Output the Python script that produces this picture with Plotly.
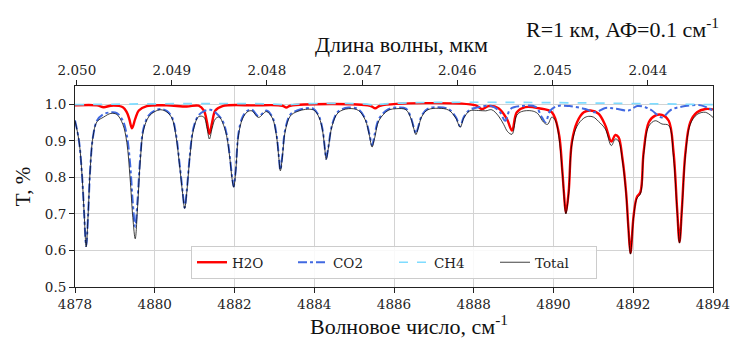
import plotly.graph_objects as go

# ---------------- data ----------------
x_h2o = [4878.00, 4878.55, 4878.72, 4878.90, 4879.20, 4879.30, 4879.36, 4879.43, 4879.51, 4879.60,
         4879.80, 4880.30, 4880.80, 4881.10, 4881.23, 4881.31, 4881.37, 4881.44, 4881.52, 4881.70,
         4882.50, 4883.20, 4883.30, 4883.40, 4885.40, 4885.53, 4885.65, 4888.05, 4888.20, 4888.37,
         4888.62, 4888.83, 4888.96, 4889.08, 4889.29, 4889.63, 4889.96, 4890.13, 4890.22, 4890.26,
         4890.31, 4890.38, 4890.46, 4890.59, 4890.76, 4890.93, 4891.13, 4891.30, 4891.45, 4891.55,
         4891.63, 4891.73, 4891.82, 4891.88, 4891.93, 4892.01, 4892.09, 4892.18, 4892.26, 4892.39,
         4892.55, 4892.72, 4892.89, 4893.01, 4893.10, 4893.16, 4893.22, 4893.31, 4893.43, 4893.60,
         4893.81, 4894.00]
t_h2o = [0.997, 0.997, 0.992, 0.996, 0.992, 0.978, 0.960, 0.934, 0.960, 0.983,
         0.995, 0.997, 0.994, 0.996, 0.983, 0.951, 0.919, 0.951, 0.983, 0.995,
         0.997, 0.996, 0.991, 0.996, 0.996, 0.989, 0.996, 0.997, 0.987, 0.995,
         0.989, 0.960, 0.928, 0.978, 0.992, 0.989, 0.978, 0.923, 0.820, 0.760,
         0.703, 0.760, 0.896, 0.951, 0.978, 0.983, 0.974, 0.942, 0.898, 0.916,
         0.910, 0.851, 0.760, 0.660, 0.593, 0.696, 0.746, 0.760, 0.869, 0.951,
         0.969, 0.971, 0.955, 0.869, 0.714, 0.623, 0.714, 0.869, 0.951, 0.978,
         0.987, 0.986]

x_co2 = [4878.00, 4878.10, 4878.18, 4878.23, 4878.28, 4878.33, 4878.38, 4878.45, 4878.55, 4878.70,
         4878.90, 4879.05, 4879.20, 4879.30, 4879.38, 4879.45, 4879.51, 4879.57, 4879.64, 4879.72,
         4879.85, 4880.00, 4880.15, 4880.30, 4880.43, 4880.53, 4880.62, 4880.70, 4880.75, 4880.80,
         4880.88, 4880.97, 4881.10, 4881.25, 4881.40, 4881.55, 4881.70, 4881.80, 4881.88, 4881.94,
         4881.98, 4882.03, 4882.10, 4882.20, 4882.32, 4882.44, 4882.60, 4882.80, 4882.95, 4883.05,
         4883.11, 4883.15, 4883.20, 4883.27, 4883.40, 4883.57, 4883.78, 4883.99, 4884.12, 4884.21,
         4884.27, 4884.30, 4884.35, 4884.45, 4884.60, 4884.86, 4885.11, 4885.28, 4885.38, 4885.45,
         4885.52, 4885.62, 4885.85, 4886.07, 4886.30, 4886.42, 4886.50, 4886.55, 4886.60, 4886.70,
         4886.85, 4887.12, 4887.37, 4887.55, 4887.66, 4887.75, 4887.90, 4888.12, 4888.45, 4888.65,
         4888.79, 4888.92, 4889.20, 4889.55, 4889.71, 4889.80, 4889.92, 4890.10, 4890.40, 4890.80,
         4891.05, 4891.30, 4891.55, 4891.88, 4892.10, 4892.30, 4892.47, 4892.72, 4892.95, 4893.30,
         4893.70, 4894.00]
t_co2 = [0.956, 0.900, 0.800, 0.700, 0.612, 0.700, 0.820, 0.910, 0.955, 0.972,
         0.978, 0.976, 0.955, 0.915, 0.840, 0.730, 0.665, 0.740, 0.860, 0.935,
         0.970, 0.983, 0.987, 0.982, 0.965, 0.920, 0.840, 0.760, 0.717, 0.760,
         0.860, 0.935, 0.970, 0.982, 0.985, 0.975, 0.955, 0.920, 0.860, 0.800,
         0.775, 0.820, 0.920, 0.965, 0.982, 0.985, 0.967, 0.983, 0.965, 0.920,
         0.860, 0.820, 0.860, 0.930, 0.972, 0.983, 0.989, 0.987, 0.967, 0.930,
         0.875, 0.851, 0.880, 0.945, 0.980, 0.991, 0.986, 0.960, 0.920, 0.888,
         0.920, 0.960, 0.986, 0.991, 0.988, 0.965, 0.935, 0.920, 0.935, 0.970,
         0.988, 0.992, 0.987, 0.965, 0.940, 0.965, 0.985, 0.992, 0.995, 0.980,
         0.955, 0.987, 0.995, 0.993, 0.964, 0.951, 0.983, 0.995, 0.995, 0.987,
         0.978, 0.990, 0.988, 0.983, 0.995, 0.992, 0.983, 0.964, 0.985, 0.995,
         0.997, 0.983]

x_ch4 = [4878.00, 4883.20, 4883.30, 4883.40, 4885.40, 4885.50, 4885.60, 4894.00]
t_ch4 = [0.999, 0.999, 0.996, 0.999, 0.999, 0.994, 0.999, 0.999]

x_total = [4878.00, 4878.10, 4878.18, 4878.23, 4878.28, 4878.33, 4878.38, 4878.45, 4878.55, 4878.72,
           4878.90, 4879.05, 4879.20, 4879.30, 4879.38, 4879.45, 4879.51, 4879.57, 4879.64, 4879.72,
           4879.85, 4880.00, 4880.15, 4880.30, 4880.43, 4880.53, 4880.62, 4880.70, 4880.75, 4880.80,
           4880.88, 4880.97, 4881.10, 4881.23, 4881.31, 4881.37, 4881.44, 4881.52, 4881.62, 4881.70,
           4881.80, 4881.88, 4881.94, 4881.98, 4882.03, 4882.10, 4882.20, 4882.32, 4882.44, 4882.60,
           4882.80, 4882.95, 4883.05, 4883.11, 4883.15, 4883.20, 4883.27, 4883.40, 4883.57, 4883.78,
           4883.99, 4884.12, 4884.21, 4884.27, 4884.30, 4884.35, 4884.45, 4884.60, 4884.86, 4885.11,
           4885.28, 4885.38, 4885.45, 4885.52, 4885.62, 4885.85, 4886.07, 4886.30, 4886.42, 4886.50,
           4886.55, 4886.60, 4886.70, 4886.85, 4887.12, 4887.37, 4887.55, 4887.66, 4887.75, 4887.90,
           4888.12, 4888.30, 4888.45, 4888.62, 4888.75, 4888.85, 4888.96, 4889.08, 4889.20, 4889.45,
           4889.60, 4889.75, 4889.85, 4889.96, 4890.05, 4890.13, 4890.22, 4890.26, 4890.31, 4890.38,
           4890.46, 4890.59, 4890.76, 4890.88, 4891.00, 4891.13, 4891.30, 4891.45, 4891.55, 4891.63,
           4891.73, 4891.82, 4891.88, 4891.93, 4892.01, 4892.09, 4892.18, 4892.26, 4892.39, 4892.55,
           4892.72, 4892.89, 4893.01, 4893.10, 4893.16, 4893.22, 4893.31, 4893.43, 4893.60, 4893.81,
           4894.00]
t_total = [0.955, 0.900, 0.800, 0.700, 0.610, 0.700, 0.820, 0.910, 0.952, 0.965,
           0.975, 0.972, 0.945, 0.895, 0.800, 0.690, 0.632, 0.720, 0.850, 0.930,
           0.966, 0.980, 0.985, 0.979, 0.962, 0.915, 0.835, 0.755, 0.715, 0.755,
           0.855, 0.930, 0.966, 0.965, 0.935, 0.905, 0.935, 0.960, 0.965, 0.950,
           0.915, 0.855, 0.795, 0.773, 0.815, 0.915, 0.960, 0.979, 0.982, 0.964,
           0.980, 0.962, 0.915, 0.855, 0.818, 0.855, 0.925, 0.968, 0.980, 0.986,
           0.984, 0.964, 0.927, 0.872, 0.849, 0.877, 0.942, 0.977, 0.988, 0.983,
           0.957, 0.916, 0.883, 0.910, 0.955, 0.983, 0.988, 0.985, 0.962, 0.932,
           0.917, 0.932, 0.967, 0.985, 0.989, 0.984, 0.962, 0.937, 0.962, 0.982,
           0.983, 0.982, 0.985, 0.968, 0.945, 0.925, 0.918, 0.970, 0.980, 0.982,
           0.975, 0.951, 0.945, 0.965, 0.955, 0.915, 0.815, 0.755, 0.700, 0.755,
           0.890, 0.940, 0.962, 0.967, 0.965, 0.953, 0.932, 0.887, 0.905, 0.900,
           0.845, 0.755, 0.655, 0.590, 0.692, 0.742, 0.755, 0.862, 0.940, 0.955,
           0.946, 0.942, 0.855, 0.708, 0.620, 0.708, 0.862, 0.945, 0.972, 0.978,
           0.964]

wavelength_ticks = [2.050, 2.049, 2.048, 2.047, 2.046, 2.045, 2.044]
wavenumber_ticks = [4878, 4880, 4882, 4884, 4886, 4888, 4890, 4892, 4894]
t_ticks = [0.5, 0.6, 0.7, 0.8, 0.9, 1.0]

# ---------------- figure ----------------
SERIF_TICK = "DejaVu Serif, Liberation Serif, serif"
SERIF_TITLE = "Liberation Serif, Times New Roman, serif"

fig = go.Figure()
fig.add_trace(go.Scatter(x=x_h2o, y=t_h2o, name="H2O", mode="lines", line_shape="spline",
                         line=dict(color="#ff0000", width=2.4)))
fig.add_trace(go.Scatter(x=x_co2, y=t_co2, name="CO2", mode="lines", line_shape="spline",
                         line=dict(color="#4169e1", width=2, dash="dashdot")))
fig.add_trace(go.Scatter(x=x_ch4, y=t_ch4, name="CH4", mode="lines", line_shape="spline",
                         line=dict(color="#7fdcff", width=1.7, dash="dash")))
fig.add_trace(go.Scatter(x=x_total, y=t_total, name="Total", mode="lines", line_shape="spline",
                         line=dict(color="rgba(0,0,0,0.75)", width=1)))
# invisible trace to carry the top (wavelength) axis
fig.add_trace(go.Scatter(x=[wavenumber_ticks[0], wavenumber_ticks[-1]], y=[t_ticks[0], t_ticks[0]],
                         xaxis="x2", mode="lines", line=dict(width=0), showlegend=False,
                         hoverinfo="skip"))

title_font = dict(family=SERIF_TITLE, size=22, color="#111")

fig.update_layout(
    width=731, height=345,
    margin=dict(l=75, r=18, t=86, b=58, autoexpand=False),
    paper_bgcolor="white", plot_bgcolor="white",
    font=dict(family=SERIF_TICK, size=13, color="#222"),
    xaxis=dict(range=[4878, 4894], tickvals=wavenumber_ticks, ticks="outside", ticklen=5,
               tickcolor="#222", showline=True, linecolor="#222", linewidth=1, mirror=True,
               showgrid=True, gridcolor="#d3d3d3", gridwidth=1, zeroline=False, automargin=False,
               tickfont=dict(family=SERIF_TICK, size=13.5)),
    xaxis2=dict(range=[4878, 4894], overlaying="x", side="top", automargin=False,
                tickvals=[10000.0 / w for w in wavelength_ticks],
                ticktext=[f"{w:.3f}" for w in wavelength_ticks],
                ticks="outside", ticklen=5, tickcolor="#222", showgrid=False, zeroline=False,
                tickfont=dict(family=SERIF_TICK, size=13.5)),
    yaxis=dict(range=[0.5, 1.05], tickvals=t_ticks, tickformat=".1f", ticks="outside",
               ticklen=5, tickcolor="#222", showline=True, linecolor="#222", linewidth=1,
               mirror=True, showgrid=True, gridcolor="#d3d3d3", gridwidth=1, zeroline=False,
               automargin=False, tickfont=dict(family=SERIF_TICK, size=13.5),
               title=dict(text="T, %", standoff=8,
                          font=dict(family=SERIF_TITLE, size=21, color="#111"))),
    legend=dict(orientation="h", x=0.5, xanchor="center", y=0.04, yanchor="bottom",
                bgcolor="rgba(255,255,255,0.85)", bordercolor="#cccccc", borderwidth=1,
                font=dict(family=SERIF_TICK, size=13.5), entrywidth=56, entrywidthmode="pixels"),
    annotations=[
        dict(text="R=1 км, АФ=0.1 см<sup>-1</sup>", xref="paper", yref="paper",
             x=1.012, y=1.29, xanchor="right", yanchor="middle", showarrow=False,
             font=title_font),
        dict(text="Длина волны, мкм", xref="paper", yref="paper",
             x=0.5125, y=1.205, xanchor="center", yanchor="middle", showarrow=False,
             font=title_font),
        dict(text="Волновое число, см<sup>-1</sup>", xref="paper", yref="paper",
             x=0.523, y=-0.19, xanchor="center", yanchor="middle", showarrow=False,
             font=title_font),
    ],
    showlegend=True,
)

fig.write_html("out.html", config={"displayModeBar": False},
               post_script="document.body.style.margin='0';")
